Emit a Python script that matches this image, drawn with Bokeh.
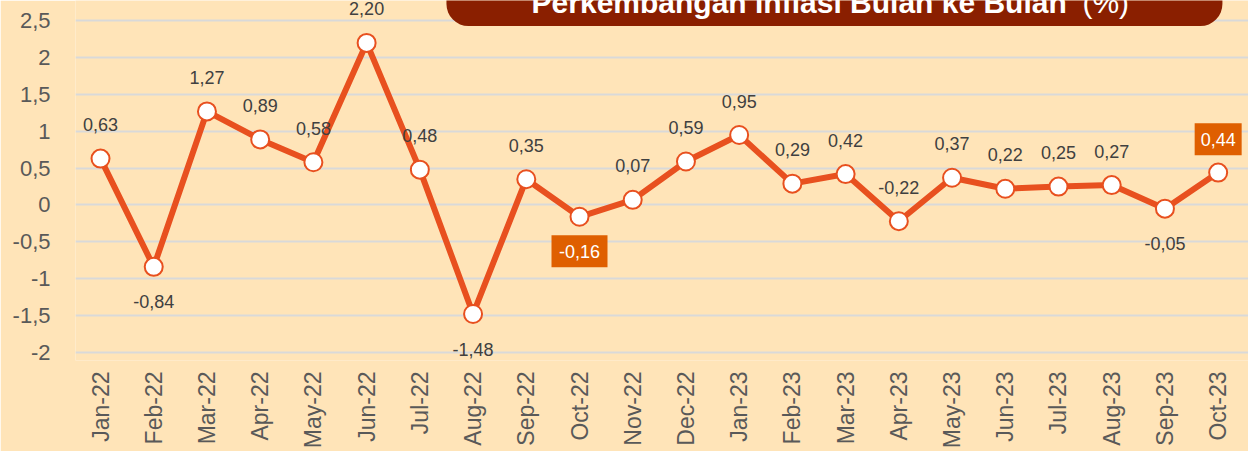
import math
from bokeh.plotting import figure
from bokeh.models import Range1d, FixedTicker, BoxAnnotation, ColumnDataSource
from bokeh.core.properties import value
from bokeh.embed import file_html
from bokeh.resources import INLINE

months = ["Jan-22", "Feb-22", "Mar-22", "Apr-22", "May-22", "Jun-22", "Jul-22", "Aug-22",
          "Sep-22", "Oct-22", "Nov-22", "Dec-22", "Jan-23", "Feb-23", "Mar-23", "Apr-23",
          "May-23", "Jun-23", "Jul-23", "Aug-23", "Sep-23", "Oct-23"]
inflation = [0.63, -0.84, 1.27, 0.89, 0.58, 2.20, 0.48, -1.48, 0.35, -0.16, 0.07, 0.59,
             0.95, 0.29, 0.42, -0.22, 0.37, 0.22, 0.25, 0.27, -0.05, 0.44]
y_ticks = [-2, -1.5, -1, -0.5, 0, 0.5, 1, 1.5, 2, 2.5]
title_bold = "Perkembangan Inflasi Bulan ke Bulan"
title_unit = "(%)"

labels_below = {"Feb-22", "Aug-22", "Oct-22", "Sep-23"}
highlighted = {"Oct-22", "Oct-23"}

BG = "#FFE4B8"
LINE = "#E8501F"
GRID = "#D9D9D9"
DARK = "#8A1F00"
HILITE = "#DF5F00"
TXT = "#595959"
FONT = "Liberation Sans"

def fmt(v):
    return ("%.2f" % v).replace(".", ",")

def fmt_tick(v):
    if float(v).is_integer():
        return str(int(v))
    return ("%g" % v).replace(".", ",")

xs = list(range(len(months)))

p = figure(width=1248, height=451, output_backend="svg", toolbar_location=None,
           x_range=Range1d(-0.47, 21.57), y_range=Range1d(-2.111, 2.776),
           background_fill_color=BG, border_fill_color=BG,
           min_border_left=75, min_border_right=0, min_border_top=0, min_border_bottom=85)
p.outline_line_color = None

# axes
p.xaxis.ticker = FixedTicker(ticks=xs)
p.xaxis.major_label_overrides = {i: m for i, m in enumerate(months)}
p.xaxis.major_label_orientation = math.pi / 2
p.xaxis.axis_line_color = None
p.xaxis.major_tick_line_color = None
p.xaxis.minor_tick_line_color = None
p.xaxis.major_tick_out = 0
p.xaxis.major_label_standoff = 11
p.xaxis.major_label_text_font = FONT
p.xaxis.major_label_text_font_size = "23px"
p.xaxis.major_label_text_color = TXT

p.yaxis.ticker = FixedTicker(ticks=y_ticks)
p.yaxis.major_label_overrides = {t: fmt_tick(t) for t in y_ticks}
p.yaxis.axis_line_color = None
p.yaxis.major_tick_line_color = None
p.yaxis.minor_tick_line_color = None
p.yaxis.major_tick_out = 0
p.yaxis.major_label_standoff = 25
p.yaxis.major_label_text_font = FONT
p.yaxis.major_label_text_font_size = "22px"
p.yaxis.major_label_text_color = TXT

p.xgrid.grid_line_color = None
p.ygrid.ticker = FixedTicker(ticks=y_ticks)
p.ygrid.grid_line_color = GRID
p.ygrid.grid_line_width = 2

# title box (cut off at the top as in the original)
p.add_layout(BoxAnnotation(left=6.50, right=21.08, bottom=2.429, top=4.0,
                           fill_color=DARK, fill_alpha=1.0, line_color=None,
                           border_radius=22))
t1 = p.text(x=[8.10], y=[2.745], text=[title_bold], text_color="white",
            text_font=value(FONT), text_font_style="bold", text_font_size="30px",
            text_align="left", text_baseline="alphabetic")
t2 = p.text(x=[18.45], y=[2.745], text=[title_unit], text_color="white",
            text_font=value(FONT), text_font_size="30px",
            text_align="left", text_baseline="alphabetic")
t1.level = "overlay"
t2.level = "overlay"

# line + markers
src = ColumnDataSource(dict(x=xs, y=inflation))
p.line("x", "y", source=src, line_color=LINE, line_width=6)
p.scatter("x", "y", source=src, size=18, fill_color="white", line_color=LINE, line_width=2)

# data labels
nx, ny, nt, noff = [], [], [], []
hx, hy, ht, hoff = [], [], [], []
for x, m, v in zip(xs, months, inflation):
    off = 35 if m in labels_below else -34
    if m in highlighted:
        hx.append(x); hy.append(v); ht.append(fmt(v)); hoff.append(off)
    else:
        nx.append(x); ny.append(v); nt.append(fmt(v)); noff.append(off)

p.text(x=nx, y=ny, text=nt, y_offset=noff, text_color="#404040",
       text_font=value(FONT), text_font_size="18px",
       text_align="center", text_baseline="middle")

ppu = 74.89  # pixels per unit on the y scale
hy_box = [v - o / ppu for v, o in zip(hy, hoff)]
hw = [11 + 9 * len(t) for t in ht]
p.rect(x=hx, y=hy_box, width=hw, height=32, width_units="screen", height_units="screen",
       fill_color=HILITE, line_color=None)
p.text(x=hx, y=hy_box, text=ht, text_color="white",
       text_font=value(FONT), text_font_size="18px",
       text_align="center", text_baseline="middle")

open("out.html", "w").write(file_html(p, INLINE))
